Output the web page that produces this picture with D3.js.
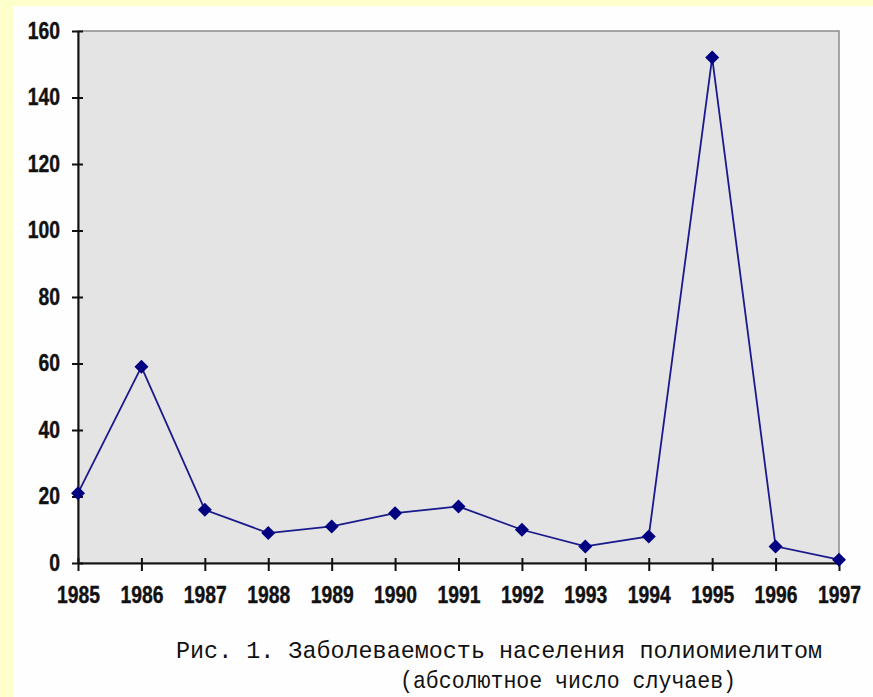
<!DOCTYPE html>
<html><head><meta charset="utf-8">
<script src="https://cdn.jsdelivr.net/npm/d3@7"></script>
<style>
html,body{margin:0;padding:0;background:#ffffcc;}
svg{display:block;}
</style></head>
<body>
<svg id="c" width="873" height="697"></svg>
<script>
const years = [1985,1986,1987,1988,1989,1990,1991,1992,1993,1994,1995,1996,1997];
const cases = [21,59,16,9,11,15,17,10,5,8,152,5,1];
const yTicks = [0,20,40,60,80,100,120,140,160];
const captionLines = ["Рис. 1. Заболеваемость населения полиомиелитом","(абсолютное число случаев)"];

const svg = d3.select("#c");
svg.append("rect").attr("x",13).attr("y",6).attr("width",860).attr("height",691).attr("fill","#fefefe");

const m = {l:78, r:839, t:31, b:563};
const x = d3.scaleLinear().domain([1985,1997]).range([m.l,m.r]);
const y = d3.scaleLinear().domain([0,160]).range([m.b,m.t]);

svg.append("rect").attr("x",m.l).attr("y",m.t).attr("width",m.r-m.l).attr("height",m.b-m.t)
  .attr("fill","#e4e4e4").attr("stroke","#8a8a8a").attr("stroke-width",1.5);

const font = "'Liberation Sans','Arial',sans-serif";
const sx = 0.84;

const yAxis = svg.append("g").attr("transform",`translate(${m.l},0)`)
  .call(d3.axisLeft(y).tickValues(yTicks).tickSizeInner(6).tickSizeOuter(0).tickPadding(12));
yAxis.selectAll(".tick line").attr("x2",5).attr("x1",-6);
yAxis.selectAll(".tick text").attr("x",-18/sx).attr("transform",`scale(${sx},1)`);
const xAxis = svg.append("g").attr("transform",`translate(0,${m.b})`)
  .call(d3.axisBottom(x).tickValues(years).tickFormat(d3.format("d")).tickSizeInner(8).tickSizeOuter(0).tickPadding(16));
xAxis.selectAll(".tick line").attr("y1",-5).attr("y2",8);
xAxis.selectAll(".tick text").attr("transform",`scale(${sx},1)`);
[yAxis,xAxis].forEach(a=>{
  a.select(".domain").attr("stroke","#111").attr("stroke-width",2);
  a.selectAll(".tick line").attr("stroke","#111").attr("stroke-width",2);
  a.selectAll(".tick text").attr("font-family",font).attr("font-weight","bold")
    .attr("font-size",23).attr("fill","#111").attr("stroke","#111").attr("stroke-width",0.4);
});

const line = d3.line().x((d,i)=>x(years[i])).y(d=>y(d));
svg.append("path").datum(cases).attr("d",line).attr("fill","none")
  .attr("stroke","#1a1a8c").attr("stroke-width",1.8);
svg.selectAll(".pt").data(cases).enter().append("path")
  .attr("transform",(d,i)=>`translate(${x(years[i])},${y(d)})`)
  .attr("d","M0,-7L7,0L0,7L-7,0Z").attr("fill","#000080");

const cap = svg.append("g").attr("font-family","'Liberation Mono','Courier New',monospace")
  .attr("font-size",24).attr("fill","#111");
cap.append("text").attr("x",176).attr("y",658).attr("textLength",646).attr("lengthAdjust","spacingAndGlyphs").text(captionLines[0]);
cap.append("text").attr("x",400).attr("y",688).attr("textLength",336).attr("lengthAdjust","spacingAndGlyphs").text(captionLines[1]);
</script>
</body></html>
